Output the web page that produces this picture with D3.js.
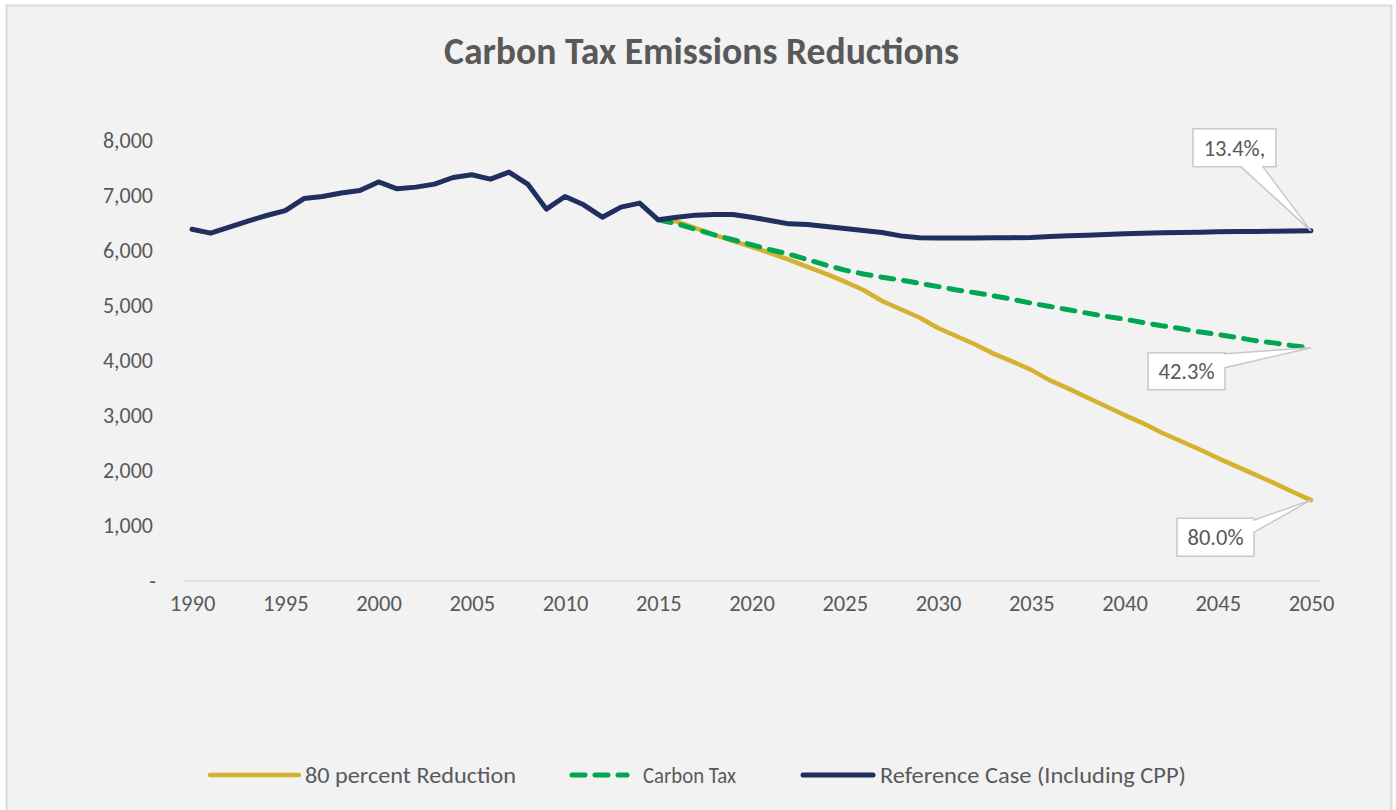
<!DOCTYPE html>
<html>
<head>
<meta charset="utf-8">
<script src="https://cdn.jsdelivr.net/npm/d3@7"></script>
<style>
  html, body { margin: 0; padding: 0; background: #ffffff; }
  svg { display: block; }
  text { font-family: Carlito, "Open Sans", "Noto Sans", sans-serif; }
</style>
</head>
<body>
<svg id="chart" width="1396" height="810"></svg>
<script>
// ---------- DATA ----------
const title = "Carbon Tax Emissions Reductions";
const seriesNames = ["80 percent Reduction", "Carbon Tax", "Reference Case (Including CPP)"];

const refYears = d3.range(1990, 2051);
const referenceCase = [
  6380, 6310, 6420, 6530, 6630, 6720, 6938, 6975, 7040, 7083,
  7240, 7114, 7145, 7200, 7320, 7370, 7290, 7417, 7200, 6746,
  6975, 6824, 6600, 6782, 6855, 6552, 6600, 6637, 6648, 6648,
  6600, 6540, 6479, 6467, 6430, 6394, 6358, 6321, 6261, 6225,
  6220, 6220, 6222, 6225, 6228, 6232, 6250, 6262, 6272, 6285,
  6300, 6310, 6318, 6322, 6326, 6334, 6338, 6342, 6346, 6350,
  6352
];

const projYears = d3.range(2015, 2051);
const eightyPercent = [
  6552, 6520, 6400, 6280, 6170, 6060, 5950, 5830, 5700, 5570,
  5430, 5280, 5080, 4930, 4780, 4590, 4440, 4290, 4120, 3980,
  3830, 3640, 3490, 3330, 3170, 3010, 2860, 2690, 2540, 2390,
  2230, 2080, 1930, 1780, 1620, 1467
];
const carbonTax = [
  6552, 6480, 6380, 6280, 6190, 6100, 6010, 5930, 5830, 5730,
  5640, 5570, 5510, 5460, 5400, 5340, 5280, 5230, 5170, 5110,
  5040, 4980, 4920, 4860, 4800, 4750, 4690, 4630, 4580, 4520,
  4470, 4420, 4360, 4320, 4270, 4232
];

const xTickValues = d3.range(1990, 2051, 5);
const yTickValues = d3.range(0, 8001, 1000);
const endLabels = ["80.0%", "42.3%", "13.4%,"];

// ---------- STYLE / LAYOUT ----------
const W = 1396, H = 810;
const colors = ["#d5b12f", "#00a651", "#1f2f5f"];
const textColor = "#595959";
const margin = { left: 192, right: 85, top: 140, bottom: 229 };

const svg = d3.select("#chart");

// chart area background with border
svg.append("rect")
  .attr("x", 6.5).attr("y", 5.5)
  .attr("width", 1385).attr("height", 820)
  .attr("fill", "#f2f2f2")
  .attr("stroke", "#d9d9d9")
  .attr("stroke-width", 2);

// scales
const x = d3.scaleLinear().domain([1990, 2050]).range([margin.left, W - margin.right]);
const y = d3.scaleLinear().domain([0, 8000]).range([H - margin.bottom, margin.top]);

// title
svg.append("text")
  .attr("x", 701.5).attr("y", 64)
  .attr("text-anchor", "middle")
  .attr("font-size", 37.5)
  .attr("font-weight", "bold")
  .attr("fill", textColor)
  .attr("textLength", 515).attr("lengthAdjust", "spacingAndGlyphs")
  .text(title);

// x axis baseline
svg.append("line")
  .attr("x1", x(1990) - 8).attr("x2", x(2050) + 9)
  .attr("y1", y(0)).attr("y2", y(0))
  .attr("stroke", "#d9d9d9").attr("stroke-width", 1.5);

// x axis via d3 axis (labels only)
const xAxis = d3.axisBottom(x).tickValues(xTickValues).tickFormat(d3.format("d")).tickSize(0).tickPadding(14);
const gx = svg.append("g").attr("transform", `translate(0,${y(0)})`).call(xAxis);
gx.select(".domain").remove();
gx.selectAll("text").attr("font-size", 22.5).attr("fill", textColor)
  .style("font-family", 'Carlito, "Open Sans", sans-serif');

// y axis
const fmt = d3.format(",");
const yAxis = d3.axisLeft(y).tickValues(yTickValues)
  .tickFormat(d => d === 0 ? "- " : fmt(d)).tickSize(0).tickPadding(39);
const gy = svg.append("g").attr("transform", `translate(${margin.left},0)`).call(yAxis);
gy.select(".domain").remove();
gy.selectAll("text").attr("font-size", 22).attr("fill", textColor)
  .style("font-family", 'Carlito, "Open Sans", sans-serif')
  .attr("dx", d => d === 0 ? 3 : 0);

// lines
const line = d3.line().x(d => x(d[0])).y(d => y(d[1]));
const refData = refYears.map((yr, i) => [yr, referenceCase[i]]);
const eightyData = projYears.map((yr, i) => [yr, eightyPercent[i]]);
const taxData = projYears.map((yr, i) => [yr, carbonTax[i]]);

svg.append("path").datum(eightyData)
  .attr("d", line).attr("fill", "none")
  .attr("stroke", colors[0]).attr("stroke-width", 4.5)
  .attr("stroke-linejoin", "round").attr("stroke-linecap", "round");

svg.append("path").datum(taxData)
  .attr("d", line).attr("fill", "none")
  .attr("stroke", colors[1]).attr("stroke-width", 5)
  .attr("stroke-dasharray", "13,10")
  .attr("stroke-linejoin", "round").attr("stroke-linecap", "round");

svg.append("path").datum(refData)
  .attr("d", line).attr("fill", "none")
  .attr("stroke", colors[2]).attr("stroke-width", 5)
  .attr("stroke-linejoin", "round").attr("stroke-linecap", "round");

// callouts
const calloutSpecs = [
  { data: eightyData, box: [-134, -57, 18, 56], side: "right", base: [20, 32] },
  { data: taxData,    box: [-163, -86, 5, 42],  side: "right", base: [6, 20] },
  { data: refData,    box: [-118, -35, -102, -64], side: "bottom", base: [-70, -48] }
];

calloutSpecs.forEach((c, i) => {
  const last = c.data[c.data.length - 1];
  const px = x(last[0]), py = y(last[1]);
  const bx0 = px + c.box[0], bx1 = px + c.box[1];
  const by0 = py + Math.min(c.box[2], c.box[3]), by1 = py + Math.max(c.box[2], c.box[3]);
  let d;
  if (c.side === "right") {
    const w0 = py + c.base[0], w1 = py + c.base[1];
    d = `M${bx0},${by0} L${bx1},${by0} L${bx1},${w0} L${px},${py} L${bx1},${w1} L${bx1},${by1} L${bx0},${by1} Z`;
  } else {
    const w0 = px + c.base[0], w1 = px + c.base[1];
    d = `M${bx0},${by0} L${bx1},${by0} L${bx1},${by1} L${w1},${by1} L${px},${py} L${w0},${by1} L${bx0},${by1} Z`;
  }
  svg.append("path").attr("d", d)
    .attr("fill", "#ffffff").attr("stroke", "#c8c8c8").attr("stroke-width", 1.5)
    .attr("stroke-linejoin", "miter");
  svg.append("text")
    .attr("x", (bx0 + bx1) / 2).attr("y", (by0 + by1) / 2)
    .attr("dy", "0.36em")
    .attr("text-anchor", "middle")
    .attr("font-size", 22.5)
    .attr("fill", textColor)
    .text(endLabels[i]);
});

// legend
const legendY = 775;
const legendItems = [
  { x0: 210, x1: 299, tx: 305, tw: 211, dash: null, w: 4.5 },
  { x0: 572, x1: 627, tx: 643, tw: 93, dash: "13,10", w: 5 },
  { x0: 803, x1: 873, tx: 880, tw: 306, dash: null, w: 5 }
];
legendItems.forEach((it, i) => {
  svg.append("line")
    .attr("x1", it.x0).attr("x2", it.x1)
    .attr("y1", legendY).attr("y2", legendY)
    .attr("stroke", colors[i]).attr("stroke-width", it.w)
    .attr("stroke-linecap", "round")
    .attr("stroke-dasharray", it.dash);
  svg.append("text")
    .attr("x", it.tx).attr("y", legendY).attr("dy", "0.35em")
    .attr("font-size", 22).attr("fill", textColor)
    .attr("textLength", it.tw).attr("lengthAdjust", "spacingAndGlyphs")
    .text(seriesNames[i]);
});
</script>
</body>
</html>
